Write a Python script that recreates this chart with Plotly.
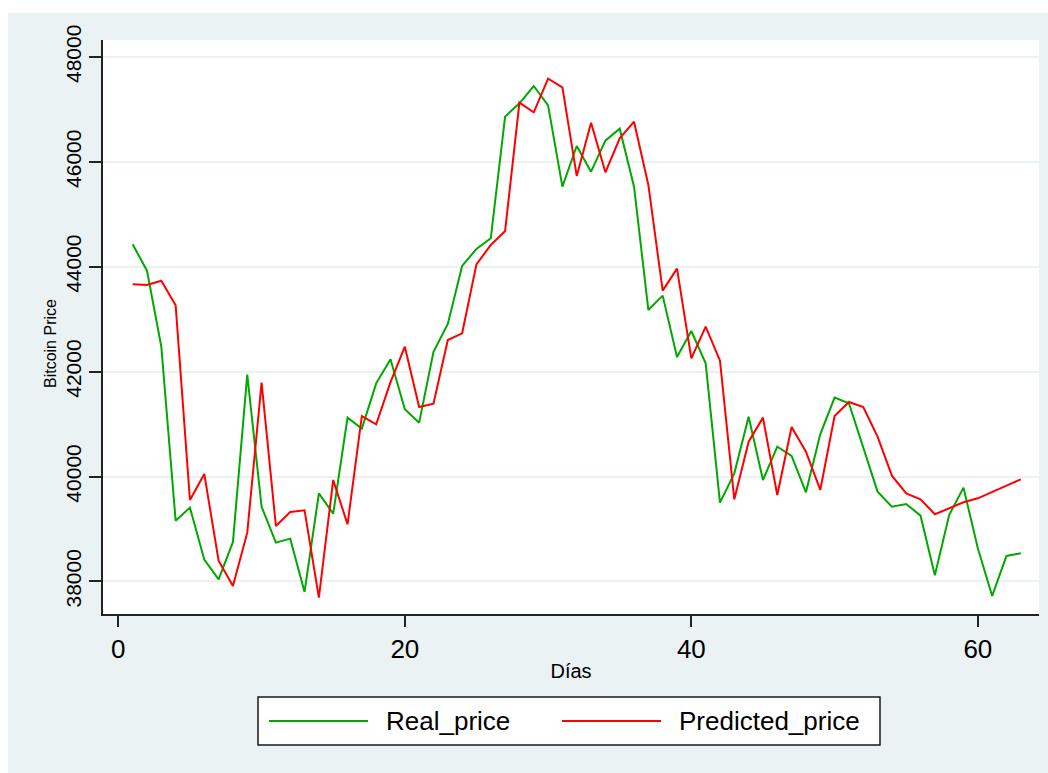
import plotly.graph_objects as go

days = list(range(1, 64))

real_price = [44429, 43926, 42480, 39160, 39408, 38416, 38041, 38753, 41943, 39427,
              38741, 38817, 37800, 39681, 39293, 41124, 40914, 41778, 42236, 41283,
              41028, 42380, 42910, 44016, 44340, 44543, 46863, 47117, 47447, 47079,
              45528, 46303, 45814, 46405, 46634, 45528, 43177, 43450, 42280, 42776,
              42160, 39503, 40062, 41143, 39935, 40571, 40393, 39700, 40806, 41505,
              41397, 40539, 39713, 39427, 39478, 39255, 38118, 39268, 39789, 38633,
              37724, 38486, 38537]

predicted_price = [43666, 43653, 43735, 43266, 39554, 40050, 38397, 37914, 38931, 41791,
                   39058, 39325, 39357, 37692, 39935, 39090, 41155, 40997, 41800, 42477,
                   41327, 41391, 42604, 42732, 44047, 44416, 44683, 47130, 46945, 47587,
                   47422, 45732, 46748, 45801, 46450, 46767, 45560, 43545, 43965, 42255,
                   42859, 42210, 39567, 40666, 41124, 39649, 40946, 40475, 39745, 41155,
                   41422, 41327, 40761, 40018, 39681, 39567, 39281, 39395, 39510, 39586,
                   39713, 39827, 39948]

x_ticks = [0, 20, 40, 60]
y_ticks = [38000, 40000, 42000, 44000, 46000, 48000]
y_tick_labels = ["38000", "40000", "42000", "44000", "46000", "48000"]
series_names = ["Real_price", "Predicted_price"]

GREEN = "#00A800"
RED = "#FF0000"
BG = "#EAF2F3"
FONT = "Liberation Sans, Arial, sans-serif"

W, H = 1048, 773
L, R, T, B = 103, 9, 40, 159
PW, PH = W - L - R, H - T - B


def px(xp):
    return (xp - L) / PW


def py(yp):
    return (H - B - yp) / PH


fig = go.Figure()
fig.add_trace(go.Scatter(x=days, y=real_price, mode="lines", name=series_names[0],
                         line=dict(color=GREEN, width=2)))
fig.add_trace(go.Scatter(x=days, y=predicted_price, mode="lines", name=series_names[1],
                         line=dict(color=RED, width=2)))

shapes = [
    # outer bluish frame
    dict(type="rect", xref="paper", yref="paper", x0=px(8), x1=px(1050), y0=py(775), y1=py(13),
         fillcolor=BG, line=dict(width=0), layer="below"),
    # plot area
    dict(type="rect", xref="paper", yref="paper", x0=0, x1=1, y0=0, y1=1,
         fillcolor="white", line=dict(width=0), layer="below"),
    # legend box
    dict(type="rect", xref="paper", yref="paper", x0=px(258), x1=px(880), y0=py(745), y1=py(697),
         fillcolor="white", line=dict(color="#1a1a1a", width=1.5), layer="above"),
    dict(type="line", xref="paper", yref="paper", x0=px(269), x1=px(368), y0=py(721), y1=py(721),
         line=dict(color=GREEN, width=2), layer="above"),
    dict(type="line", xref="paper", yref="paper", x0=px(562), x1=px(661), y0=py(721), y1=py(721),
         line=dict(color=RED, width=2), layer="above"),
]

annotations = [
    dict(text="Bitcoin Price", xref="paper", yref="paper", x=px(50), y=py(344),
         textangle=-90, showarrow=False, font=dict(family=FONT, size=16, color="black"),
         xanchor="center", yanchor="middle"),
    dict(text=series_names[0], xref="paper", yref="paper", x=px(384), y=py(721),
         showarrow=False, font=dict(family=FONT, size=26, color="black"),
         xanchor="left", yanchor="middle"),
    dict(text=series_names[1], xref="paper", yref="paper", x=px(677), y=py(721),
         showarrow=False, font=dict(family=FONT, size=26, color="black"),
         xanchor="left", yanchor="middle"),
]

fig.update_layout(
    width=W, height=H, autosize=False,
    margin=dict(l=L, r=R, t=T, b=B, pad=0),
    paper_bgcolor="white", plot_bgcolor="white",
    showlegend=False,
    font=dict(family=FONT, color="black"),
    shapes=shapes, annotations=annotations,
    xaxis=dict(range=[-1.07, 64.27], tickmode="array", tickvals=x_ticks,
               ticks="outside", ticklen=11, tickwidth=1.5, tickcolor="#222",
               showline=True, linecolor="#222", linewidth=1.5,
               showgrid=False, zeroline=False,
               tickfont=dict(family=FONT, size=26, color="black"),
               title=dict(text="Días", font=dict(family=FONT, size=20, color="black"), standoff=1)),
    yaxis=dict(range=[37380, 48324], tickmode="array", tickvals=y_ticks, ticktext=y_tick_labels,
               ticks="outside", ticklen=12, tickwidth=1.5, tickcolor="#222",
               showline=True, linecolor="#222", linewidth=1.5,
               showgrid=True, gridcolor=BG, gridwidth=2, zeroline=False,
               tickangle=-90,
               tickfont=dict(family=FONT, size=21, color="black")),
)

fig.write_html("out.html")
